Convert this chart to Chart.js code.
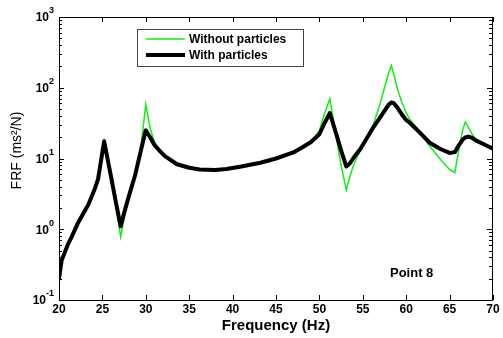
<!DOCTYPE html>
<html>
<head>
<meta charset="utf-8">
<script src="https://cdn.jsdelivr.net/npm/chart.js@4.4.1/dist/chart.umd.min.js"></script>
<style>
html,body{margin:0;padding:0;background:#fff;}
canvas{display:block;}
</style>
</head>
<body>
<canvas id="c" width="503" height="338"></canvas>
<script>
// ---- data ----
const freq = [20, 20.3, 20.5, 21, 21.5, 22.2, 23.4, 24.15, 24.5, 25.2, 26, 26.5, 27.1, 27.5, 28, 28.75, 29.5, 30, 30.5, 31, 31.6, 32.2, 33.6, 35, 36.2, 38, 39.3, 41, 43.2, 45, 47, 48, 49, 50, 50.5, 51.2, 52, 52.5, 53.1, 53.5, 54, 54.7, 56.2, 57, 57.5, 58, 58.3, 58.6, 59, 59.5, 60, 60.4, 61.6, 62.7, 64, 65, 65.6, 66, 66.5, 66.8, 67.15, 67.6, 68, 69, 70];
const withParticles = [0.2, 0.36, 0.42, 0.6, 0.8, 1.24, 2.25, 3.8, 5.1, 17.5, 5.5, 2.6, 1.1, 1.7, 2.8, 5.7, 14, 25, 20, 15.5, 12.8, 10.8, 8.3, 7.4, 7.0, 6.9, 7.1, 7.7, 8.7, 10, 12.2, 14.3, 17, 22, 30, 44, 21, 13, 7.7, 8.5, 10.5, 13.5, 27.4, 38, 47, 58, 62, 60, 52, 42, 35, 32, 23, 16.7, 13.5, 12, 12.3, 15, 18.5, 19.8, 20.4, 19.5, 18, 15.8, 13.8];
const withoutParticles = [0.2, 0.36, 0.42, 0.6, 0.8, 1.24, 2.25, 3.8, 5.1, 17.5, 5.3, 2.4, 0.78, 1.4, 2.7, 5.8, 17, 58, 27, 17, 13, 10.8, 8.3, 7.4, 7.0, 6.9, 7.1, 7.7, 8.7, 10, 12.2, 14.3, 17, 25, 40, 70, 18, 8, 3.6, 5.5, 8.5, 13, 30, 60, 100, 165, 205, 150, 95, 62, 44, 36, 24, 15, 9.5, 7, 6.3, 12, 25, 32.8, 28, 22, 19, 15.8, 13.8];
const seriesLabels = ["Without particles", "With particles"];
const xTicks = [20, 25, 30, 35, 40, 45, 50, 55, 60, 65, 70];
const yTickExps = [-1, 0, 1, 2, 3];
const xTitle = "Frequency (Hz)";
const yTitle = "FRF (ms\u00B2/N)";
const annotation = "Point 8";

const FONT = "'Liberation Sans', Arial, sans-serif";
const toXY = (vals) => freq.map((f, i) => ({x: f, y: vals[i]}));

const decor = {
  id: 'decor',
  afterDraw(chart) {
    const ctx = chart.ctx;
    const a = chart.chartArea;
    const xs = chart.scales.x, ys = chart.scales.y;
    ctx.save();
    ctx.strokeStyle = '#000';
    ctx.fillStyle = '#000';
    ctx.lineWidth = 1;
    // frame
    ctx.strokeRect(Math.round(a.left) + 0.5, Math.round(a.top) + 0.5, Math.round(a.right - a.left) - 1, Math.round(a.bottom - a.top));
    // x ticks
    ctx.beginPath();
    xTicks.forEach(v => {
      const px = Math.round(xs.getPixelForValue(v)) + 0.5;
      ctx.moveTo(px, a.bottom); ctx.lineTo(px, a.bottom - 5);
      ctx.moveTo(px, a.top); ctx.lineTo(px, a.top + 5);
    });
    // y ticks
    yTickExps.forEach(e => {
      const py = Math.round(ys.getPixelForValue(Math.pow(10, e))) + 0.5;
      ctx.moveTo(a.left, py); ctx.lineTo(a.left + 5, py);
      ctx.moveTo(a.right - 1, py); ctx.lineTo(a.right - 6, py);
      if (e < 3) {
        for (let k = 2; k <= 9; k++) {
          const q = Math.round(ys.getPixelForValue(k * Math.pow(10, e))) + 0.5;
          ctx.moveTo(a.left, q); ctx.lineTo(a.left + 3, q);
          ctx.moveTo(a.right - 1, q); ctx.lineTo(a.right - 4, q);
        }
      }
    });
    ctx.stroke();
    // x tick labels
    ctx.font = "bold 12px " + FONT;
    ctx.textAlign = 'center';
    ctx.textBaseline = 'middle';
    xTicks.forEach(v => {
      ctx.fillText(String(v), xs.getPixelForValue(v), a.bottom + 10);
    });
    // y tick labels 10^e
    yTickExps.forEach(e => {
      const py = ys.getPixelForValue(Math.pow(10, e));
      const exp = String(e);
      ctx.font = "bold 9px " + FONT;
      const ew = ctx.measureText(exp).width;
      ctx.textAlign = 'left';
      ctx.textBaseline = 'middle';
      const right = a.left - 5;
      ctx.fillText(exp, right - ew, py - 6);
      ctx.font = "bold 12px " + FONT;
      ctx.textAlign = 'right';
      ctx.fillText("10", right - ew, py + 1);
    });
    // x title
    ctx.font = "bold 15px " + FONT;
    ctx.textAlign = 'center';
    ctx.textBaseline = 'middle';
    ctx.fillText(xTitle, (a.left + a.right) / 2, 326);
    // y title
    ctx.save();
    ctx.translate(17, (a.top + a.bottom) / 2 - 8);
    ctx.rotate(-Math.PI / 2);
    ctx.font = "14px " + FONT;
    ctx.fillText(yTitle, 0, 0);
    ctx.restore();
    // annotation
    ctx.font = "bold 13px " + FONT;
    ctx.textAlign = 'left';
    ctx.fillText(annotation, 390, 273);
    // legend
    ctx.fillStyle = '#fff';
    ctx.fillRect(138, 29, 166, 38);
    ctx.strokeStyle = '#444';
    ctx.lineWidth = 1;
    ctx.strokeRect(137.5, 29.5, 166, 37);
    const rows = [39, 55];
    const order = [1, 0];
    order.forEach((di, r) => {
      const ds = chart.data.datasets[di];
      ctx.strokeStyle = ds.borderColor;
      ctx.lineWidth = ds.borderWidth;
      ctx.beginPath();
      ctx.moveTo(146, rows[r]); ctx.lineTo(185, rows[r]);
      ctx.stroke();
      ctx.fillStyle = '#000';
      ctx.font = "bold 12px " + FONT;
      ctx.textAlign = 'left';
      ctx.textBaseline = 'middle';
      ctx.fillText(ds.label, 189, rows[r] + 1);
    });
    ctx.restore();
  }
};

new Chart(document.getElementById('c'), {
  type: 'line',
  data: {
    datasets: [
      { label: seriesLabels[1], data: toXY(withParticles), borderColor: '#000000', borderWidth: 4, pointRadius: 0, tension: 0, order: 0, borderJoinStyle: 'round', borderCapStyle: 'round' },
      { label: seriesLabels[0], data: toXY(withoutParticles), borderColor: '#11ee11', borderWidth: 1.5, pointRadius: 0, tension: 0, order: 1 }
    ]
  },
  options: {
    responsive: false,
    animation: false,
    devicePixelRatio: 1,
    layout: { padding: { top: 17, right: 10, left: 0, bottom: 0 } },
    plugins: { legend: { display: false }, tooltip: { enabled: false } },
    scales: {
      x: {
        type: 'linear', min: 20, max: 70,
        grid: { display: false }, border: { display: false },
        ticks: { display: false },
        afterFit(s) { s.height = 38; }
      },
      y: {
        type: 'logarithmic', min: 0.1, max: 1000,
        grid: { display: false }, border: { display: false },
        ticks: { display: false },
        afterFit(s) { s.width = 59; }
      }
    }
  },
  plugins: [decor]
});
</script>
</body>
</html>
